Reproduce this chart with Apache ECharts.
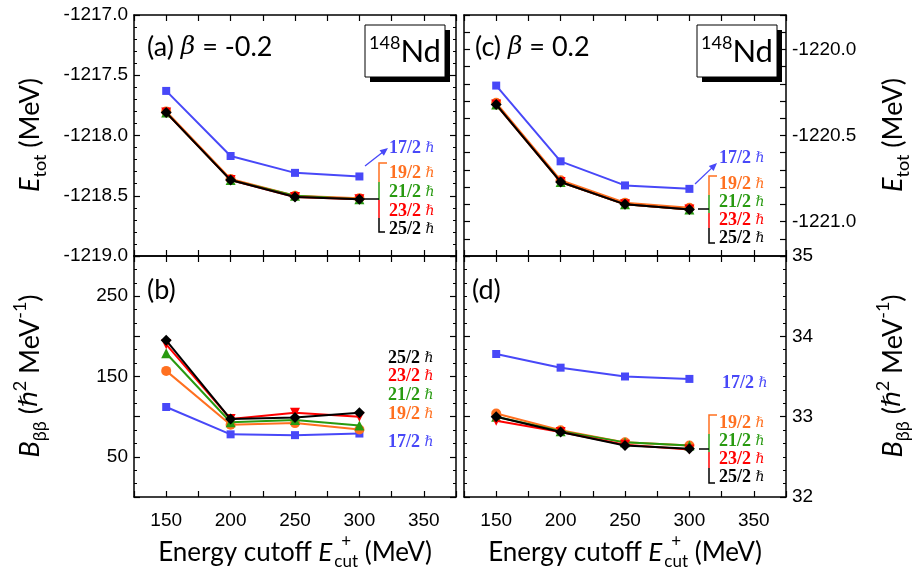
<!DOCTYPE html>
<html>
<head>
<meta charset="utf-8">
<script src="https://cdn.jsdelivr.net/npm/echarts@6/dist/echarts.min.js"></script>
<style>html,body{margin:0;padding:0;background:#fff}#main{width:919px;height:586px}</style>
</head>
<body>
<div id="main"></div>
<script>
// cutoff energies (MeV)
const cutoffs = [150, 200, 250, 300];
const spins = ['17/2', '19/2', '21/2', '23/2', '25/2'];

// (a) E_tot, beta = -0.2
const eTotA_17 = [-1217.63, -1218.17, -1218.31, -1218.34];
const eTotA_19 = [-1217.80, -1218.36, -1218.50, -1218.52];
const eTotA_21 = [-1217.81, -1218.37, -1218.50, -1218.53];
const eTotA_23 = [-1217.81, -1218.37, -1218.51, -1218.53];
const eTotA_25 = [-1217.81, -1218.37, -1218.51, -1218.53];

// (c) E_tot, beta = 0.2
const eTotC_17 = [-1220.21, -1220.65, -1220.79, -1220.81];
const eTotC_19 = [-1220.31, -1220.76, -1220.89, -1220.92];
const eTotC_21 = [-1220.32, -1220.77, -1220.90, -1220.93];
const eTotC_23 = [-1220.32, -1220.77, -1220.90, -1220.93];
const eTotC_25 = [-1220.32, -1220.77, -1220.90, -1220.93];

// (b) B_bb, beta = -0.2
const bbA_17 = [112, 78, 77, 79];
const bbA_19 = [157, 90, 92, 84];
const bbA_21 = [179, 93, 96, 89];
const bbA_23 = [190, 97, 105, 100];
const bbA_25 = [195, 97, 99, 105];

// (d) B_bb, beta = 0.2
const bbC_17 = [33.78, 33.61, 33.50, 33.47];
const bbC_19 = [33.04, 32.83, 32.68, 32.64];
const bbC_21 = [33.00, 32.82, 32.68, 32.64];
const bbC_23 = [32.95, 32.81, 32.65, 32.59];
const bbC_25 = [33.00, 32.81, 32.64, 32.60];

const colors = ['#4848f8', '#ff7020', '#289a10', '#ff0000', '#000000'];
const symbols = ['rect', 'circle', 'triangle', 'triangle', 'diamond'];
const symRot = [0, 0, 0, 180, 0];
const symSize = [8, 10, 10, 10, 11];

const panels = [
  [eTotA_17, eTotA_19, eTotA_21, eTotA_23, eTotA_25],
  [eTotC_17, eTotC_19, eTotC_21, eTotC_23, eTotC_25],
  [bbA_17, bbA_19, bbA_21, bbA_23, bbA_25],
  [bbC_17, bbC_19, bbC_21, bbC_23, bbC_25]
];

const chart = echarts.init(document.getElementById('main'), null, {renderer: 'canvas'});

const grids = [
  {left: 134, top: 15, width: 322, height: 241},
  {left: 464, top: 15, width: 322, height: 241},
  {left: 134, top: 256, width: 322, height: 241},
  {left: 464, top: 256, width: 322, height: 241}
];

const tickFont = {fontSize: 19, fontFamily: 'Liberation Sans', color: '#000'};
const lineSty = {color: '#000', width: 1.5};

function xAx(g, pos, showLab) {
  return {
    type: 'value', gridIndex: g, position: pos, min: 125, max: 375, interval: 25,
    axisLine: {show: true, onZero: false, lineStyle: lineSty},
    axisTick: {show: true, inside: true, length: 6, lineStyle: {color: '#000', width: 1.2}},
    axisLabel: Object.assign({show: showLab, margin: 14,
      formatter: v => (v % 50 === 0 && v > 125 && v < 375) ? String(v) : ''}, tickFont),
    splitLine: {show: false}
  };
}

const yCfg = [
  {min: -1219, max: -1217, interval: 0.5, minor: 5, fmt: v => v.toFixed(1)},
  {min: -1221.2, max: -1219.8, interval: 0.1, minor: 0,
    fmt: v => Math.abs(v * 2 - Math.round(v * 2)) < 1e-6 ? v.toFixed(1) : ''},
  {min: 0, max: 300, interval: 50, minor: 3, fmt: v => (Math.round(v) % 100 === 50) ? String(v) : ''},
  {min: 32, max: 35, interval: 1, minor: 6, fmt: v => String(v)}
];

function yAx(g, pos, showLab) {
  const c = yCfg[g];
  return {
    type: 'value', gridIndex: g, position: pos, min: c.min, max: c.max, interval: c.interval,
    axisLine: {show: true, onZero: false, lineStyle: lineSty},
    axisTick: {show: true, inside: true, length: 6, lineStyle: {color: '#000', width: 1.2}},
    minorTick: {show: c.minor > 0, splitNumber: c.minor || 5, length: 3, lineStyle: {color: '#000', width: 1}},
    axisLabel: Object.assign({show: showLab, margin: 6, formatter: c.fmt}, tickFont),
    splitLine: {show: false}
  };
}

const xAxes = [], yAxes = [];
for (let g = 0; g < 4; g++) {
  xAxes.push(xAx(g, 'bottom', g >= 2));
  yAxes.push(yAx(g, g % 2 === 0 ? 'left' : 'right', true));
}
for (let g = 0; g < 4; g++) {
  xAxes.push(xAx(g, 'top', false));
  yAxes.push(yAx(g, g % 2 === 0 ? 'right' : 'left', false));
}

const series = [];
panels.forEach((sets, g) => {
  sets.forEach((vals, k) => {
    series.push({
      type: 'line', name: spins[k], xAxisIndex: g, yAxisIndex: g,
      data: cutoffs.map((x, j) => [x, vals[j]]),
      symbol: symbols[k], symbolRotate: symRot[k], symbolSize: symSize[k], showSymbol: true,
      itemStyle: {color: colors[k]}, lineStyle: {color: colors[k], width: 2},
      z: 2 + k, animation: false
    });
  });
});

// ---- annotations ----
const ctx = document.createElement('canvas').getContext('2d');
function tw(text, font) { ctx.font = font; return ctx.measureText(text).width; }

const gfx = [];
function txt(x, y, text, font, fill, align) {
  gfx.push({type: 'text', x: x, y: y, z: 100,
    style: {text: text, font: font, fill: fill || '#000', align: align || 'left', verticalAlign: 'middle',
      textAlign: align || 'left', textVerticalAlign: 'middle'}});
}

function spinLabel(x, y, k) {
  gfx.push({type: 'text', x: x, y: y, z: 100,
    style: {
      text: '{a|' + spins[k] + '} {h|ℏ}', fill: colors[k], align: 'left', verticalAlign: 'middle',
      font: 'bold 18px "Liberation Serif"',
      rich: {
        a: {fontFamily: 'Liberation Serif', fontWeight: 'bold', fontSize: 18, fill: colors[k]},
        h: {fontFamily: 'DejaVu Serif', fontStyle: 'italic', fontSize: 14, fill: colors[k]}
      }
    }});
}

function poly(points, color) {
  gfx.push({type: 'polyline', z: 100, shape: {points: points}, style: {stroke: color, lineWidth: 1.5, fill: null}});
}

function arrow(x1, y1, x2, y2, color) {
  const dx = x2 - x1, dy = y2 - y1, L = Math.hypot(dx, dy), ux = dx / L, uy = dy / L, px = -uy, py = ux;
  const hl = 8, hw = 3.5;
  gfx.push({type: 'line', z: 100, shape: {x1: x1, y1: y1, x2: x2 - ux * hl * 0.7, y2: y2 - uy * hl * 0.7},
    style: {stroke: color, lineWidth: 1.3}});
  gfx.push({type: 'polygon', z: 100, shape: {points: [[x2, y2],
    [x2 - ux * hl + px * hw, y2 - uy * hl + py * hw], [x2 - ux * hl - px * hw, y2 - uy * hl - py * hw]]},
    style: {fill: color}});
}

function bracket(x, ys, joinX, joinY) {
  const hook = 8;
  poly([[x + hook, ys[0]], [x, ys[0]], [x, ys[1]]], colors[1]);
  poly([[x, ys[1]], [x, ys[2]]], colors[2]);
  poly([[x, ys[2]], [x, ys[3]]], colors[3]);
  poly([[x, ys[3]], [x, ys[4]], [x + hook - 2, ys[4]]], colors[4]);
  poly([[joinX, joinY], [x, joinY]], '#000');
}

function nucleusBox(x, y) {
  gfx.push({type: 'rect', z: 99, shape: {x: x + 5, y: y + 5, width: 80, height: 52}, style: {fill: '#000'}});
  gfx.push({type: 'rect', z: 100, shape: {x: x, y: y, width: 80, height: 52}, style: {fill: '#fff', stroke: '#000', lineWidth: 1}});
  gfx.push({type: 'text', z: 101, x: x + 40, y: y + 27,
    style: {text: '{s|148}{n|Nd}', align: 'center', verticalAlign: 'middle',
      rich: {s: {fontFamily: 'Lato', fontSize: 18, verticalAlign: 'top', lineHeight: 18, fill: '#000'},
             n: {fontFamily: 'Lato', fontSize: 31, lineHeight: 36, fill: '#000'}}}});
}

function panelLabel(x, y, pre, post) {
  gfx.push({type: 'text', z: 100, x: x, y: y,
    style: {text: '{n|' + pre + '}' + (post ? '{i|β}{n|' + post + '}' : ''), align: 'left', verticalAlign: 'middle',
      rich: {n: {fontFamily: 'Lato', fontSize: 27, fill: '#000'},
             i: {fontFamily: 'DejaVu Serif', fontStyle: 'italic', fontSize: 25, fill: '#000'}}}});
}

function xTitle(cx, y) {
  const fm = '26px Lato', fi = 'italic 26px Lato', fs = '17px Lato';
  const w1 = tw('Energy cutoff ', fm), w2 = tw('E', fi), w3 = tw('cut', fs), w4 = tw(' (MeV)', fm);
  const x0 = cx - (w1 + w2 + w3 + 2 + w4) / 2;
  txt(x0, y, 'Energy cutoff ', fm);
  txt(x0 + w1, y, 'E', fi);
  txt(x0 + w1 + w2 + 2, y + 9, 'cut', fs);
  txt(x0 + w1 + w2 + 2 + w3 / 2, y - 11, '+', fs, '#000', 'center');
  txt(x0 + w1 + w2 + 2 + w3, y, ' (MeV)', fm);
}

function yTitle(x, y, kind) {
  const rich = {
    i: {fontFamily: 'Lato', fontStyle: 'italic', fontSize: 27, lineHeight: 38, fill: '#000'},
    n: {fontFamily: 'Lato', fontSize: 27, lineHeight: 38, fill: '#000'},
    h: {fontFamily: 'DejaVu Sans', fontStyle: 'italic', fontSize: 25, lineHeight: 38, fill: '#000'},
    s: {fontFamily: 'Lato', fontSize: 18, lineHeight: 20, verticalAlign: 'bottom', fill: '#000'},
    p: {fontFamily: 'Lato', fontSize: 18, lineHeight: 24, verticalAlign: 'top', fill: '#000'}
  };
  const text = kind === 'E' ? '{i|E}{s|tot}{n| (MeV)}'
    : '{i|B}{s|ββ}{n| (}{h|ℏ}{p|2}{n| MeV}{p|-1}{n|)}';
  gfx.push({type: 'text', z: 100, x: x, y: y, rotation: Math.PI / 2,
    style: {text: text, align: 'center', verticalAlign: 'middle', rich: rich}});
}

// panel (a)
panelLabel(147, 47, '(a) ', ' = -0.2');
nucleusBox(365, 25);
arrow(365, 166, 388, 148, colors[0]);
spinLabel(389, 148, 0);
bracket(379, [163, 182, 200, 218, 232], 364, 199);
[173, 192, 211, 229].forEach((y, i) => spinLabel(389, y, i + 1));

// panel (c)
panelLabel(475, 47, '(c) ', ' = 0.2');
nucleusBox(697, 25);
arrow(695, 184, 717, 163, colors[0]);
spinLabel(719, 158, 0);
bracket(709, [176, 195, 213, 228, 243], 698, 209);
[184, 202, 220, 238].forEach((y, i) => spinLabel(719, y, i + 1));

// panel (b)
panelLabel(147, 290, '(b)');
[442, 414, 395, 376, 358].forEach((y, k) => spinLabel(388, y, k));

// panel (d)
panelLabel(472, 290, '(d)');
spinLabel(722, 383, 0);
bracket(709, [415, 434, 452, 468, 483], 699, 449);
[423, 441, 459, 477].forEach((y, i) => spinLabel(719, y, i + 1));

// axis titles
xTitle(295, 553);
xTitle(625, 553);
yTitle(30, 135, 'E');
yTitle(30, 376, 'B');
yTitle(893, 135, 'E');
yTitle(893, 376, 'B');

chart.setOption({
  backgroundColor: '#ffffff',
  animation: false,
  grid: grids,
  xAxis: xAxes,
  yAxis: yAxes,
  series: series,
  graphic: {elements: gfx}
});
</script>
</body>
</html>
